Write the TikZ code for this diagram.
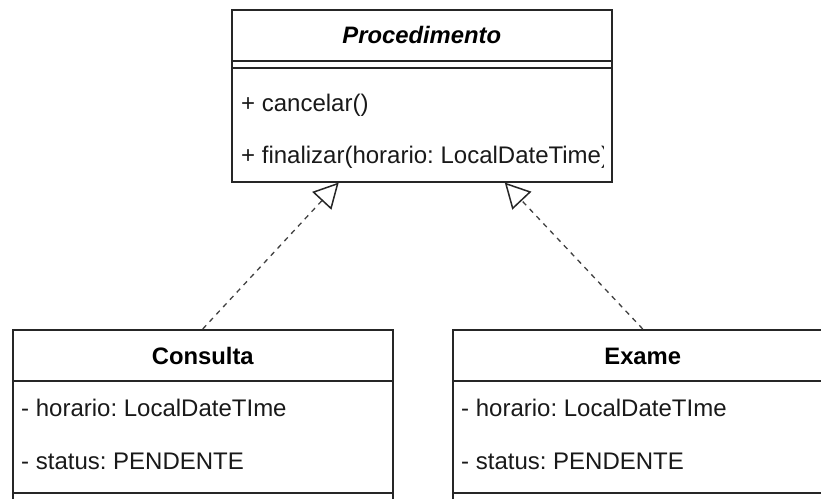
\documentclass[tikz,border=0pt]{standalone}
\usepackage{fontspec}
\setmainfont{Liberation Sans}
\usetikzlibrary{arrows.meta,calc}
\frenchspacing
\begin{document}
\begin{tikzpicture}[x=1pt,y=-1pt,
  classbox/.style={draw=black!85, line width=1.5pt, rectangle, anchor=north west,
                   minimum width=380pt, inner sep=0pt},
  sepline/.style={draw=black!85, line width=1.5pt},
  member/.style={anchor=base west, inner sep=0pt, text=black!90,
                 font=\fontsize{24}{28}\selectfont},
  classname/.style={anchor=base, inner sep=0pt, text=black,
                    font=\fontsize{23.8}{28}\selectfont\bfseries},
  realize/.style={draw=black!75, line width=1.3pt, dash pattern=on 5pt off 5pt,
                  -{Triangle[length=25pt,width=26pt,fill=white,line width=1.5pt,color=black!85]}}]
\useasboundingbox (0,0) rectangle (821,498);
\clip (0,0) rectangle (821,498);

% abstract class
\node[classbox, minimum height=172pt] (proc) at (231,9) {};
\draw[sepline] ($(proc.north west)+(0,52)$) -- ($(proc.north east)+(0,52)$);
\draw[sepline] ($(proc.north west)+(0,59)$) -- ($(proc.north east)+(0,59)$);
\node[classname, font=\fontsize{23.8}{28}\selectfont\bfseries\itshape] (procname)
  at ($(proc.north)+(0,34.3)$) {Procedimento};
\node[member] (cancel) at (241,111.5) {+ cancelar()};
\begin{scope}
  \clip (231,61) rectangle (603.5,181);
  \node[member] (finish) at (241,163.3) {+ finalizar(horario: LocalDateTime)};
\end{scope}

% concrete classes
\node[classbox, minimum height=240pt] (cons) at (12,329) {};
\draw[sepline] ($(cons.north west)+(0,52)$) -- ($(cons.north east)+(0,52)$);
\draw[sepline] ($(cons.north west)+(0,164)$) -- ($(cons.north east)+(0,164)$);
\node[classname] (consname) at ($(cons.north)+(0,35)$) {Consulta};
\node[member] (consh) at (21,416) {- horario: LocalDateTIme};
\node[member] (conss) at (21,469) {- status: PENDENTE};

\node[classbox, minimum height=240pt] (exam) at (452,329) {};
\draw[sepline] ($(exam.north west)+(0,52)$) -- ($(exam.north east)+(0,52)$);
\draw[sepline] ($(exam.north west)+(0,164)$) -- ($(exam.north east)+(0,164)$);
\node[classname] (examname) at ($(exam.north)+(0,35)$) {Exame};
\node[member] (examh) at (461,416) {- horario: LocalDateTIme};
\node[member] (exams) at (461,469) {- status: PENDENTE};

% realization arrows
\draw[realize] (cons.north) -- ($(proc.south)+(-83,0)$);
\draw[realize] (exam.north) -- ($(proc.south)+(83,0)$);
\end{tikzpicture}
\end{document}
